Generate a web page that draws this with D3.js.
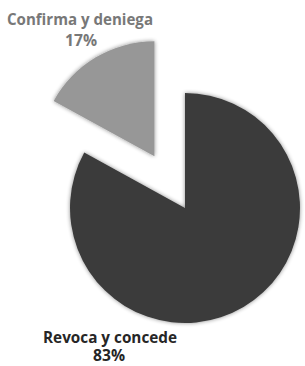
<!DOCTYPE html>
<html><head><meta charset="utf-8">
<script src="https://cdn.jsdelivr.net/npm/d3@7"></script>
<style>body{margin:0;background:#fff}svg{display:block}</style>
</head><body>
<svg id="c" width="305" height="366"></svg>
<script>
const categories = ["Revoca y concede", "Confirma y deniega"];
const values = [83, 17];
const colors = ["#3b3b3b", "#979797"];
const labelColors = ["#262626", "#787878"];

const svg = d3.select("#c");
const defs = svg.append("defs");
const f = defs.append("filter").attr("id","sh").attr("x","-20%").attr("y","-20%").attr("width","140%").attr("height","140%");
f.append("feGaussianBlur").attr("in","SourceAlpha").attr("stdDeviation",2);
f.append("feComponentTransfer").append("feFuncA").attr("type","linear").attr("slope",0.45);
const m = f.append("feMerge"); m.append("feMergeNode"); m.append("feMergeNode").attr("in","SourceGraphic");

const cx = 185, cy = 208, r = 115, explode = 60;
const pie = d3.pie().sort(null).value(d => d)(values);
const arc = d3.arc().innerRadius(0).outerRadius(r);
const g = svg.append("g").attr("transform", `translate(${cx},${cy})`);

g.selectAll("path").data(pie).join("path")
  .attr("d", arc)
  .attr("fill", (d,i) => colors[i])
  .attr("filter","url(#sh)")
  .attr("transform", (d,i) => {
    if (i !== 1) return null;
    const a = (d.startAngle + d.endAngle)/2;
    return `translate(${explode*Math.sin(a)},${-explode*Math.cos(a)})`;
  });

// labels
const labels = [
  {name: categories[0], pct: values[0] + "%", x: 110, y1: 343, y2: 361, px: 109, w: 134, pw: 32},
  {name: categories[1], pct: values[1] + "%", x: 80, y1: 25, y2: 46, px: 81, w: 146, pw: 32}
];
labels.forEach((l,i) => {
  svg.append("text").attr("x", l.x).attr("y", l.y1).attr("text-anchor","middle")
    .attr("font-family","'Open Sans', sans-serif").attr("font-weight","bold")
    .attr("font-size", 16).attr("fill", labelColors[i])
    .attr("textLength", l.w).attr("lengthAdjust","spacingAndGlyphs").text(l.name);
  svg.append("text").attr("x", l.px).attr("y", l.y2).attr("text-anchor","middle")
    .attr("font-family","'Open Sans', sans-serif").attr("font-weight","bold")
    .attr("font-size", 16).attr("fill", labelColors[i])
    .attr("textLength", l.pw).attr("lengthAdjust","spacingAndGlyphs").text(l.pct);
});
</script>
</body></html>
